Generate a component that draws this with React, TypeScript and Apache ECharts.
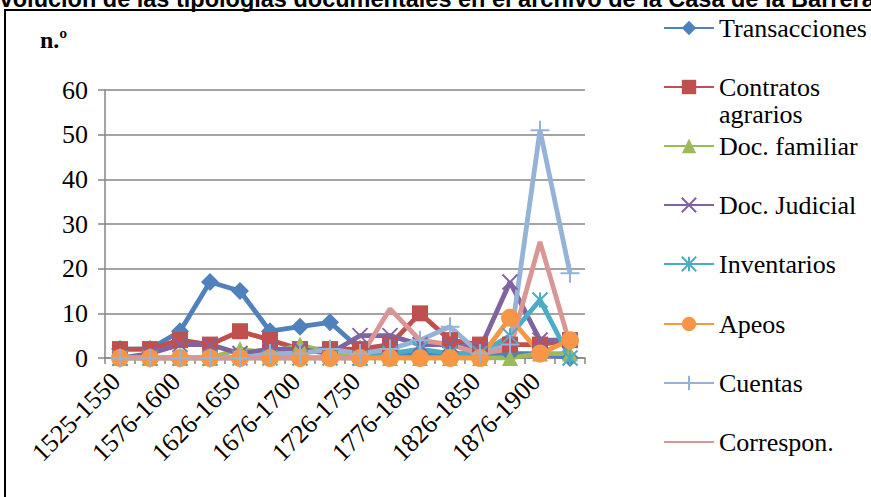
import React, { useEffect, useRef } from 'react';
import * as echarts from 'echarts';

const titleText = 'Evolución de las tipologías documentales en el archivo de la Casa de la Barrera';
const yAxisTitle = 'n.º';

const categories = [
  '1525-1550', '1551-1575', '1576-1600', '1601-1625', '1626-1650', '1651-1675',
  '1676-1700', '1701-1725', '1726-1750', '1751-1775', '1776-1800', '1801-1825',
  '1826-1850', '1851-1875', '1876-1900', '1901-1925',
];

const transacciones = [2, 2, 6, 17, 15, 6, 7, 8, 2, 1, 1, 1, 1, 1, 1, 0];
const contratosAgrarios = [2, 2, 4, 3, 6, 4, 2, 2, 2, 3, 10, 4, 3, 3, 3, 4];
const docFamiliar = [0, 0, 0, 0, 2, 1, 3, 1, 0, 0, 0, 0, 0, 0, 1, 1];
const docJudicial = [0, 1, 3, 3, 1, 2, 2, 1, 5, 5, 3, 3, 2, 17, 4, 4];
const inventarios = [0, 0, 0, 0, 0, 0, 0, 0, 0, 1, 2, 1, 1, 5, 13, 0];
const apeos = [0, 0, 0, 0, 0, 0, 0, 0, 0, 0, 0, 0, 0, 9, 1, 4];
const cuentas = [0, 0, 0, 0, 0, 1, 1, 2, 1, 2, 4, 7, 1, 3, 51, 19];
const correspon = [0, 0, 0, 0, 0, 0, 0, 0, 0, 11, 4, 3, 1, 2, 26, 3];

const yTicks = [0, 10, 20, 30, 40, 50, 60];
const yMin = 0;
const yMax = 60;
const yStep = 10;

const X_SYMBOL = 'path://M0,0L10,10M10,0L0,10';
const AST_SYMBOL = 'path://M0,0L10,10M10,0L0,10M5,0L5,10';
const PLUS_SYMBOL = 'path://M5,0L5,10M0,5L10,5';

const seriesDefs = [
  { name: 'Transacciones', lines: ['Transacciones'], data: transacciones, color: '#4F81BD', symbol: 'diamond', size: 18 },
  { name: 'Contratos agrarios', lines: ['Contratos', 'agrarios'], data: contratosAgrarios, color: '#C0504D', symbol: 'rect', size: 16 },
  { name: 'Doc. familiar', lines: ['Doc. familiar'], data: docFamiliar, color: '#9BBB59', symbol: 'triangle', size: 16 },
  { name: 'Doc. Judicial', lines: ['Doc. Judicial'], data: docJudicial, color: '#8064A2', symbol: X_SYMBOL, size: 15 },
  { name: 'Inventarios', lines: ['Inventarios'], data: inventarios, color: '#4BACC6', symbol: AST_SYMBOL, size: 15 },
  { name: 'Apeos', lines: ['Apeos'], data: apeos, color: '#F79646', symbol: 'circle', size: 18 },
  { name: 'Cuentas', lines: ['Cuentas'], data: cuentas, color: '#95B3D7', symbol: PLUS_SYMBOL, size: 19 },
  { name: 'Correspon.', lines: ['Correspon.'], data: correspon, color: '#D99694', symbol: 'none', size: 0 },
];

const legendCenters = [28, 87, 146, 205, 264, 324, 383, 442];

export default function App() {
  const ref = useRef<HTMLDivElement>(null);

  useEffect(() => {
    if (!ref.current) return;
    const chart = echarts.init(ref.current, null, { renderer: 'svg' });
    const gray = '#868686';
    const itemH = 18;
    const serifFont = '26px "Liberation Serif", "Times New Roman", serif';
    const gridLeft = 105;
    const gridTop = 90;
    const gridH = 268;

    const legends = seriesDefs.map((s, i) => ({
      data: [s.name],
      orient: 'vertical',
      left: 663,
      top: legendCenters[i] - itemH / 2,
      padding: 0,
      itemWidth: 50,
      itemHeight: itemH,
      itemGap: 0,
      selectedMode: false,
      formatter: () => '',
      itemStyle: s.symbol === 'none' ? { opacity: 0 } : {},
      textStyle: { fontSize: 1 },
    }));

    const option: any = {
      animation: false,
      backgroundColor: '#fff',
      grid: { left: gridLeft, top: gridTop, width: 480, height: gridH, containLabel: false },
      legend: legends,
      xAxis: {
        type: 'category',
        data: categories,
        boundaryGap: true,
        axisLine: { show: true, lineStyle: { color: gray, width: 1.5 } },
        axisTick: { show: true, interval: 0, length: 6, lineStyle: { color: gray, width: 1.5 } },
        axisLabel: { show: false },
        splitLine: { show: false },
      },
      yAxis: {
        type: 'value',
        min: yMin,
        max: yMax,
        interval: yStep,
        axisLine: { show: true, lineStyle: { color: gray, width: 1.5 } },
        axisTick: { show: true, length: 7, lineStyle: { color: gray, width: 1.5 } },
        axisLabel: { show: false },
        splitLine: { show: true, lineStyle: { color: gray, width: 1.5 } },
      },
      series: seriesDefs.map((s) => ({
        name: s.name,
        type: 'line',
        data: s.data,
        color: s.color,
        symbol: s.symbol,
        symbolSize: s.size,
        showSymbol: s.symbol !== 'none',
        lineStyle: { width: 4.8, color: s.color },
        itemStyle: {
          color: s.color,
          borderColor: s.color,
          borderWidth: s.symbol.startsWith('path://') ? 2 : 0,
        },
        emphasis: { disabled: true },
      })),
    };

    chart.setOption(option);

    const axisY = gridTop + gridH;
    const graphics: any[] = [
      {
        type: 'rect',
        shape: { x: 5, y: 10, width: 1000, height: 1000 },
        style: { fill: 'none', stroke: '#000', lineWidth: 2 },
        silent: true,
      },
      {
        type: 'text',
        x: -16,
        y: -1,
        style: {
          text: titleText,
          font: 'bold 23.5px "Liberation Sans", Arial, sans-serif',
          fill: '#000',
          textAlign: 'left',
          textVerticalAlign: 'middle',
        },
        silent: true,
      },
      {
        type: 'text',
        x: 40,
        y: 40,
        style: {
          text: yAxisTitle,
          font: 'bold 24px "Liberation Serif", "Times New Roman", serif',
          fill: '#000',
          textAlign: 'left',
          textVerticalAlign: 'middle',
        },
        silent: true,
      },
    ];

    yTicks.forEach((v) => {
      const py = chart.convertToPixel({ yAxisIndex: 0 }, v) as number;
      graphics.push({
        type: 'text',
        x: gridLeft - 17,
        y: py,
        style: { text: String(v), font: serifFont, fill: '#000', textAlign: 'right', textVerticalAlign: 'middle' },
        silent: true,
      });
    });

    categories.forEach((c, i) => {
      if (i % 2 !== 0) return;
      const px = chart.convertToPixel({ xAxisIndex: 0 }, c) as number;
      graphics.push({
        type: 'text',
        x: px - 4,
        y: axisY + 19,
        rotation: Math.PI / 4,
        style: { text: c, font: serifFont, fill: '#000', textAlign: 'right', textVerticalAlign: 'middle' },
        silent: true,
      });
    });

    seriesDefs.forEach((s, i) => {
      s.lines.forEach((ln, k) => {
        graphics.push({
          type: 'text',
          x: 719,
          y: legendCenters[i] + k * 27,
          style: { text: ln, font: serifFont, fill: '#000', textAlign: 'left', textVerticalAlign: 'middle' },
          silent: true,
        });
      });
    });

    chart.setOption({ graphic: graphics });
    return () => chart.dispose();
  }, []);

  return (
    <div
      ref={ref}
      style={{ position: 'absolute', left: 0, top: 0, width: 871, height: 497 }}
    />
  );
}
